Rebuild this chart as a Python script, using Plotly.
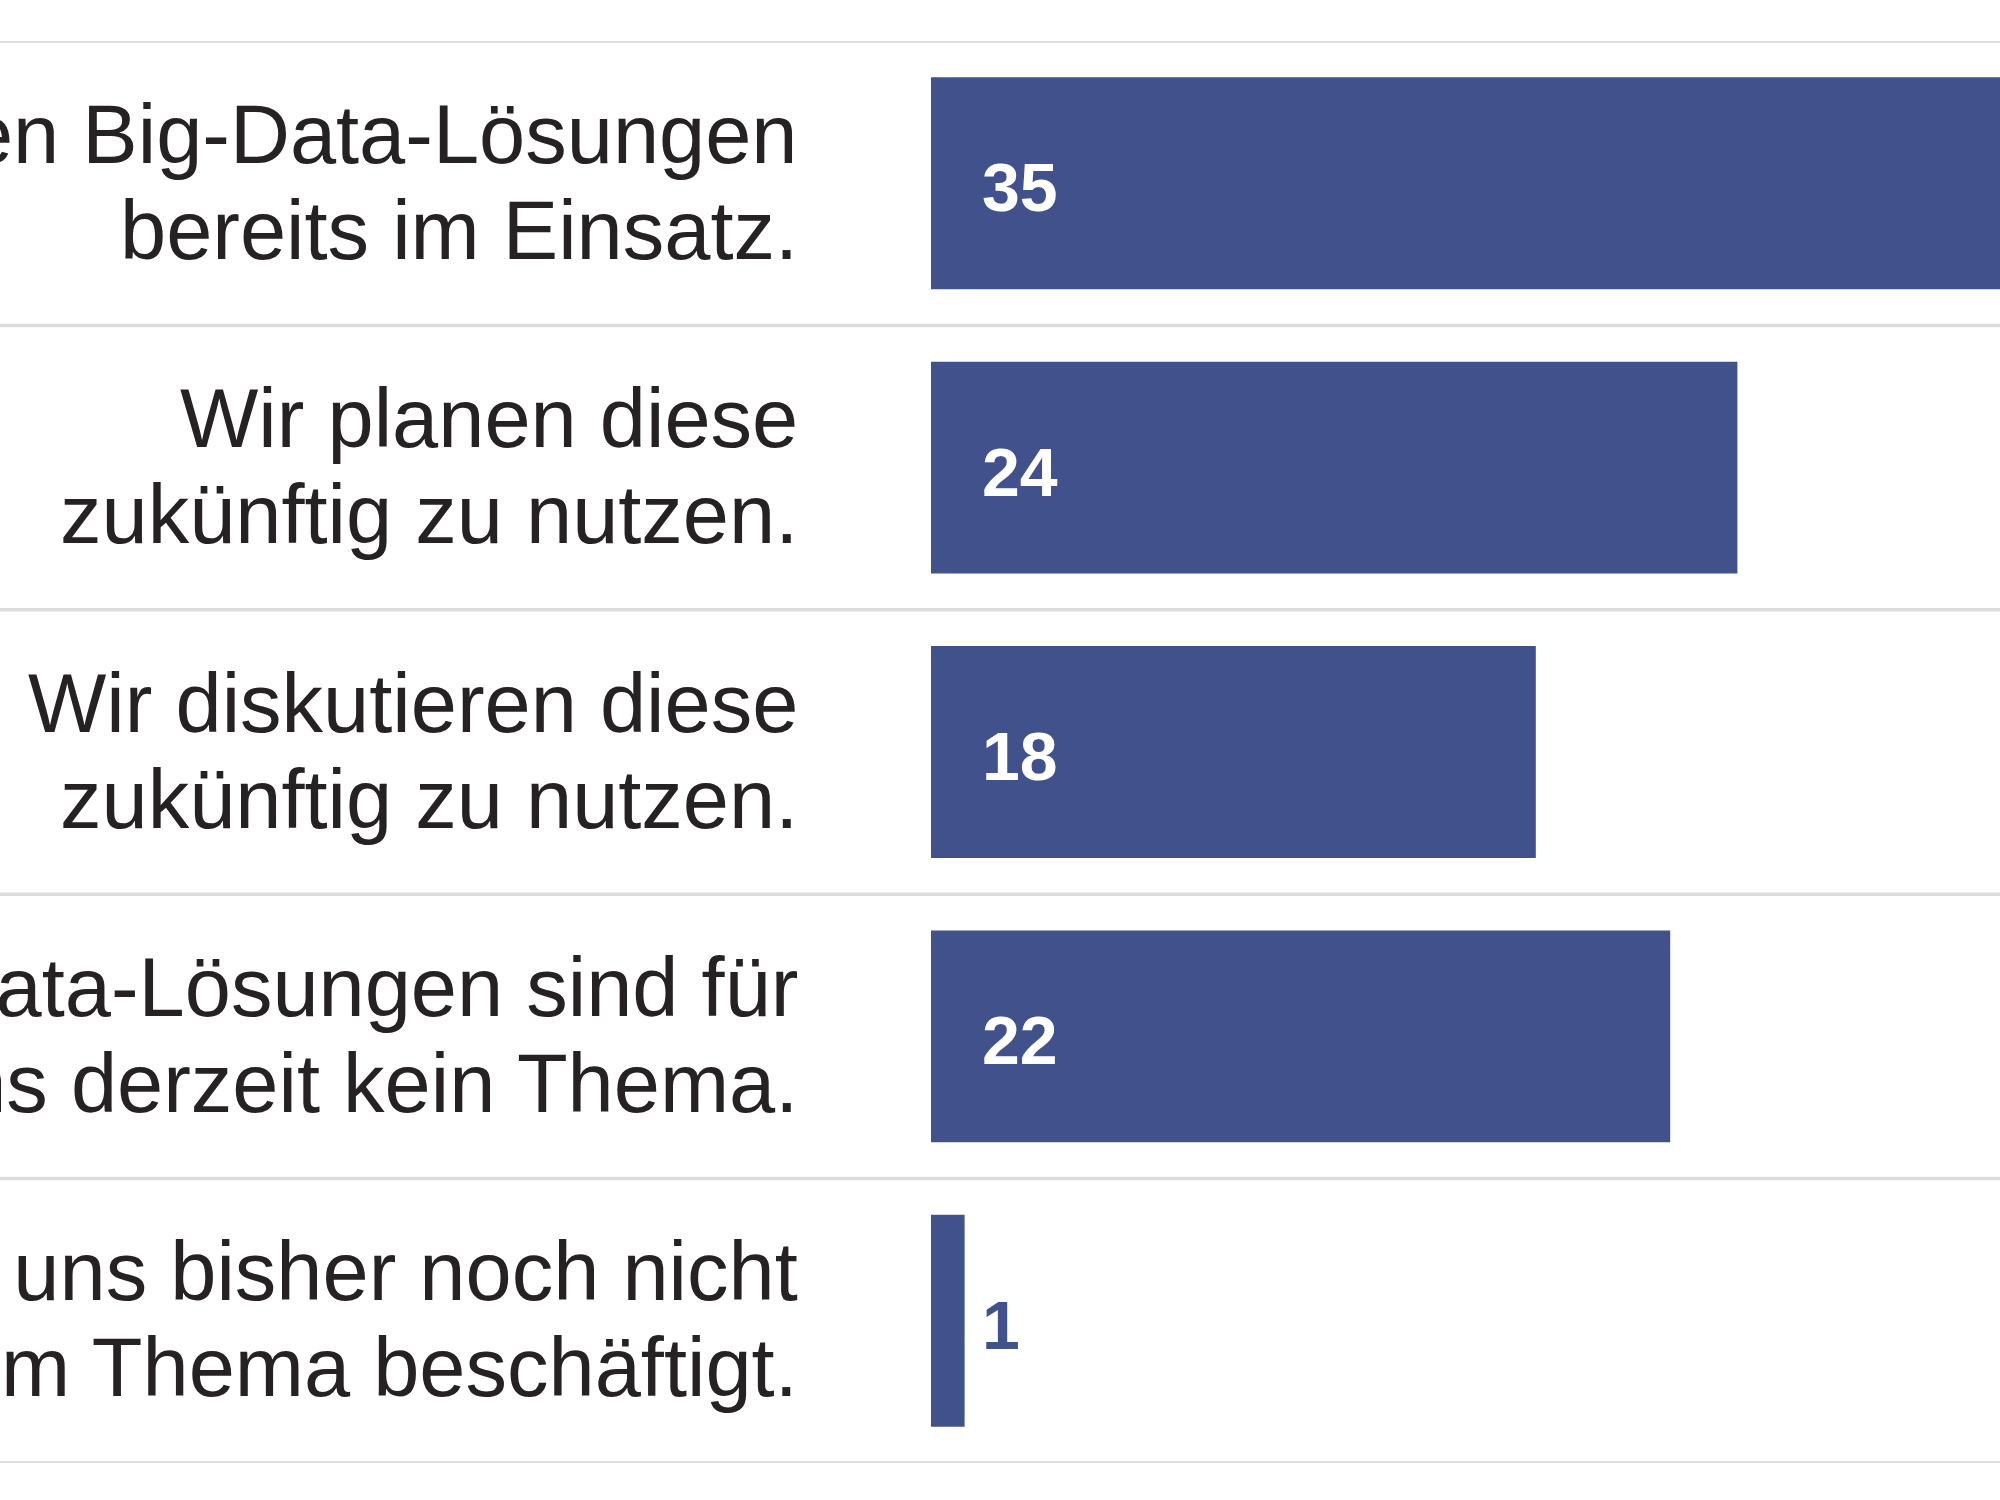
import plotly.graph_objects as go

# ---- data ----
categories = [
    "Wir haben Big-Data-Lösungen<br>bereits im Einsatz.",
    "Wir planen diese<br>zukünftig zu nutzen.",
    "Wir diskutieren diese<br>zukünftig zu nutzen.",
    "Big-Data-Lösungen sind für<br>uns derzeit kein Thema.",
    "Wir haben uns bisher noch nicht<br>mit diesem Thema beschäftigt.",
]
values = [35, 24, 18, 22, 1]

BAR_COLOR = "#41518c"
TEXT_COLOR = "#262223"
GRID_COLOR = "#dcdcdc"
W, H = 2000, 1500
ZERO_PX = 931
PX_PER_UNIT = 33.6
LABEL_FONT = "Liberation Sans, Arial, sans-serif"

fig = go.Figure(
    go.Bar(
        x=values,
        y=categories,
        orientation="h",
        marker=dict(color=BAR_COLOR, line=dict(width=0)),
        hoverinfo="skip",
    )
)

n = len(categories)
shapes = []
for i in range(n + 1):
    shapes.append(dict(
        type="line", xref="paper", yref="y",
        x0=0, x1=1, y0=i - 0.5, y1=i - 0.5,
        line=dict(color=GRID_COLOR, width=3.5), layer="below",
    ))

annotations = []
for cat, v in zip(categories, values):
    lines = cat.split("<br>")
    for j, line in enumerate(lines):
        annotations.append(dict(
            x=0, y=cat, xref="x", yref="y",
            text=line, showarrow=False,
            xanchor="right", yanchor="middle",
            xshift=-131, yshift=49 if j == 0 else -47,
            font=dict(family=LABEL_FONT, size=83, color=TEXT_COLOR),
        ))
    annotations.append(dict(
        x=0, y=cat, xref="x", yref="y",
        text=f"<b>{v}</b>", showarrow=False,
        xanchor="left", yanchor="middle", xshift=49, yshift=-4,
        font=dict(family=LABEL_FONT, size=68,
                  color="white" if v >= 3 else BAR_COLOR),
    ))

fig.update_layout(
    width=W, height=H,
    margin=dict(l=0, r=0, t=41, b=37),
    paper_bgcolor="white", plot_bgcolor="white",
    showlegend=False,
    bargap=0.255,
    shapes=shapes,
    annotations=annotations,
    xaxis=dict(
        range=[-ZERO_PX / PX_PER_UNIT, (W - ZERO_PX) / PX_PER_UNIT],
        showgrid=False, zeroline=False, showticklabels=False, showline=False,
        fixedrange=True,
    ),
    yaxis=dict(
        range=[n - 0.5, -0.5],
        showgrid=False, zeroline=False, showticklabels=False, showline=False,
        fixedrange=True,
    ),
)

fig.write_html("out.html")
